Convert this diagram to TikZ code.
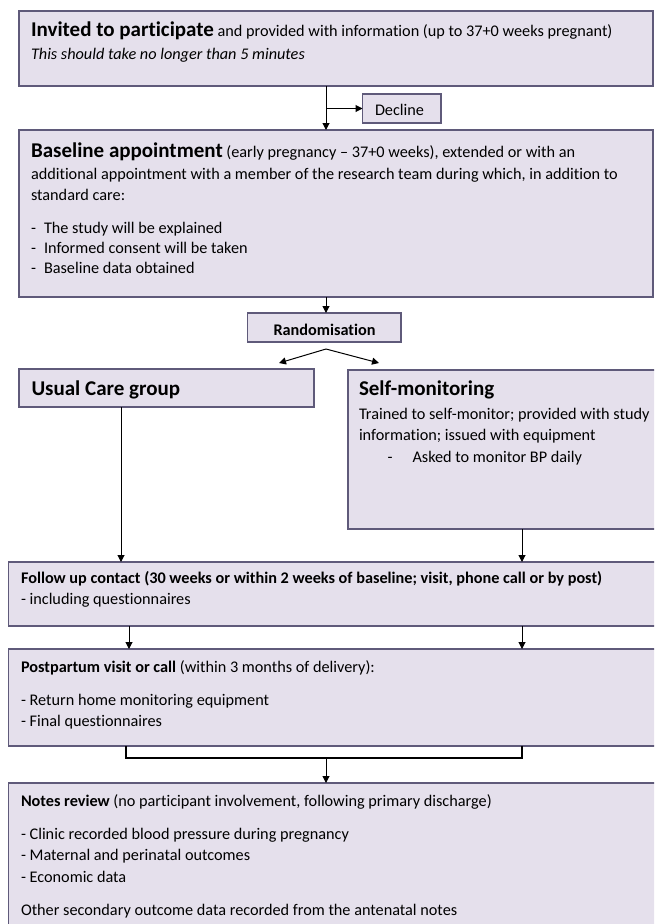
\documentclass[tikz,border=0pt]{standalone}
\usepackage{fontspec}
\setmainfont{Carlito}[Ligatures=NoCommon]
\usetikzlibrary{arrows.meta}
\definecolor{boxfill}{HTML}{E5E0EC}
\definecolor{boxline}{HTML}{5F5A7A}
\newcommand{\bigb}[1]{{\fontsize{21}{24}\selectfont\bfseries #1}}
\tikzset{
 box/.style={draw=boxline, fill=boxfill, line width=1.4pt, rectangle, inner sep=0pt, outer sep=0pt, anchor=north west},
 txt/.style={anchor=base west, inner sep=0pt, outer sep=0pt, font=\fontsize{16.25}{19}\selectfont},
 arr/.style={-{Triangle[length=7pt,width=7pt]}, line width=1pt, black},
 brk/.style={line width=1.4pt, black},
}
\begin{document}
\begin{tikzpicture}[x=1pt,y=-1pt]
\clip (0,0) rectangle (654,924);
\fill[white] (0,0) rectangle (654,924);
% boxes
\node[box, minimum width=634pt, minimum height=75pt] (b1) at (19,11) {};
\node[box, minimum width=78.5pt, minimum height=29pt] (dec) at (362.5,94) {};
\node[box, minimum width=634pt, minimum height=167pt] (b2) at (19,130) {};
\node[box, minimum width=153.5pt, minimum height=29pt] (rnd) at (247.5,313) {};
\node[box, minimum width=295pt, minimum height=38pt] (uc) at (19,369) {};
\node[box, minimum width=400pt, minimum height=159pt] (sm) at (348,370) {};
\node[box, minimum width=680pt, minimum height=64pt] (fu) at (8.5,562) {};
\node[box, minimum width=680pt, minimum height=97pt] (pp) at (8.5,649) {};
\node[box, minimum width=680pt, minimum height=180pt] (nr) at (8.5,783) {};
% axes
\coordinate (ax) at (326,0);
\coordinate (axl) at (121,0);
\coordinate (axl2) at (129,0);
\coordinate (axr) at (522,0);
\coordinate (bl) at (126,758);
\coordinate (br) at (522,758);
\coordinate (bm) at (326,758);
\coordinate (apex) at (326,349);
\coordinate (rl) at (279,363);
\coordinate (rr) at (379,363);
% texts
\node[txt] (t1a) at (31,36.7) {\bigb{Invited to participate} and provided with information (up to 37+0 weeks pregnant)};
\node[txt] (t1b) at (31,59) {\itshape This should take no longer than 5 minutes};
\node[txt] (tdec) at (375,115) {Decline};
\node[txt] (t2a) at (31,157) {\bigb{Baseline appointment} (early pregnancy -- 37+0 weeks), extended or with an};
\node[txt] (t2b) at (31,179) {additional appointment with a member of the research team during which, in addition to};
\node[txt] (t2c) at (31,200) {standard care:};
\node[txt] (t2d) at (31,233) {-};
\node[txt] (t2e) at (44,233) {The study will be explained};
\node[txt] (t2f) at (31,253) {-};
\node[txt] (t2g) at (44,253) {Informed consent will be taken};
\node[txt] (t2h) at (31,273) {-};
\node[txt] (t2i) at (44,273) {Baseline data obtained};
\node[txt, anchor=base, font=\fontsize{16.25}{19}\selectfont\bfseries] (trnd) at (324.5,335) {Randomisation};
\node[txt] (tuc) at (31.5,395) {\bigb{Usual Care group}};
\node[txt] (tsm1) at (359,395) {\bigb{Self-monitoring}};
\node[txt] (tsm2) at (359,419) {Trained to self-monitor; provided with study};
\node[txt] (tsm3) at (359,440) {information; issued with equipment};
\node[txt] (tsm4) at (387.5,462) {-};
\node[txt] (tsm5) at (412.5,462) {Asked to monitor BP daily};
\node[txt] (tfu1) at (21,583) {\bfseries Follow up contact (30 weeks or within 2 weeks of baseline; visit, phone call or by post)};
\node[txt] (tfu2) at (21,604) {- including questionnaires};
\node[txt] (tpp1) at (21,672) {\textbf{Postpartum visit or call} (within 3 months of delivery):};
\node[txt] (tpp2) at (21,705) {- Return home monitoring equipment};
\node[txt] (tpp3) at (21,726) {- Final questionnaires};
\node[txt] (tnr1) at (21,806) {\textbf{Notes review} (no participant involvement, following primary discharge)};
\node[txt] (tnr2) at (21,839) {- Clinic recorded blood pressure during pregnancy};
\node[txt] (tnr3) at (21,860) {- Maternal and perinatal outcomes};
\node[txt] (tnr4) at (21,882) {- Economic data};
\node[txt] (tnr5) at (21,915) {Other secondary outcome data recorded from the antenatal notes};
% connectors
\draw[arr] (b1.south -| ax) -- (b2.north -| ax);
\draw[arr] (dec.west -| ax) -- (dec.west);
\draw[arr] (b2.south -| ax) -- (rnd.north -| ax);
\draw[arr] (apex) -- (rl);
\draw[arr] (apex) -- (rr);
\draw[arr] (uc.south -| axl) -- (fu.north -| axl);
\draw[arr] (sm.south -| axr) -- (fu.north -| axr);
\draw[arr] (fu.south -| axl2) -- (pp.north -| axl2);
\draw[arr] (fu.south -| axr) -- (pp.north -| axr);
\draw[brk] (pp.south -| bl) -- (bl) -- (br) -- (pp.south -| br);
\draw[arr] (bm) -- (nr.north -| bm);
\end{tikzpicture}
\end{document}
